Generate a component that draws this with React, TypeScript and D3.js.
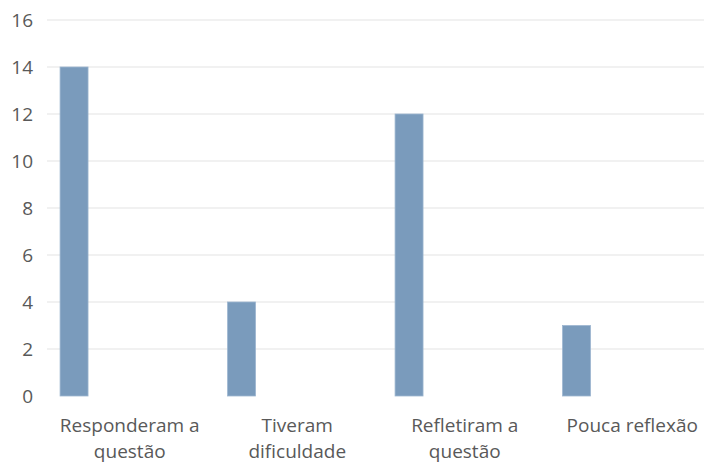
import React from "react";
import * as d3 from "d3";

const categories: string[][] = [
  ["Responderam a", "questão"],
  ["Tiveram", "dificuldade"],
  ["Refletiram a", "questão"],
  ["Pouca reflexão"],
];
const values: number[] = [14, 4, 12, 3];
const yTicks: number[] = [0, 2, 4, 6, 8, 10, 12, 14, 16];

const W = 704;
const H = 464;

export default function App() {
  const keys = categories.map((c) => c.join(" "));
  const x = d3.scaleBand<string>().domain(keys).range([46, 716]).padding(0);
  const y = d3.scaleLinear().domain([0, 16]).range([396, 20]);
  const bw = x.bandwidth();
  const font = "'Open Sans', 'Noto Sans', sans-serif";
  return (
    <svg
      width={W}
      height={H}
      style={{ position: "absolute", left: 0, top: 0, background: "#fff" }}
    >
      {yTicks.map((t) => (
        <g key={t}>
          {t > 0 && (
            <line x1={47} x2={W} y1={y(t)} y2={y(t)} stroke="#ececec" strokeWidth={1.5} />
          )}
          <text
            x={33}
            y={y(t)}
            dy="0.35em"
            textAnchor="end"
            fontFamily={font}
            fontSize={19}
            fill="#595959"
          >
            {t}
          </text>
        </g>
      ))}
      {values.map((v, i) => (
        <rect
          key={i}
          x={(x(keys[i]) as number) + bw * 0.084}
          y={y(v)}
          width={bw * 0.167}
          height={y(0) - y(v)}
          fill="#7a9bbc"
          stroke="#9db6d0"
          strokeWidth={0.8}
        />
      ))}
      {categories.map((lines, i) => (
        <text
          key={i}
          x={(x(keys[i]) as number) + bw / 2}
          y={432}
          textAnchor="middle"
          fontFamily={font}
          fontSize={19}
          fill="#595959"
        >
          {lines.map((l, j) => (
            <tspan key={j} x={(x(keys[i]) as number) + bw / 2} dy={j === 0 ? 0 : 26}>
              {l}
            </tspan>
          ))}
        </text>
      ))}
    </svg>
  );
}
